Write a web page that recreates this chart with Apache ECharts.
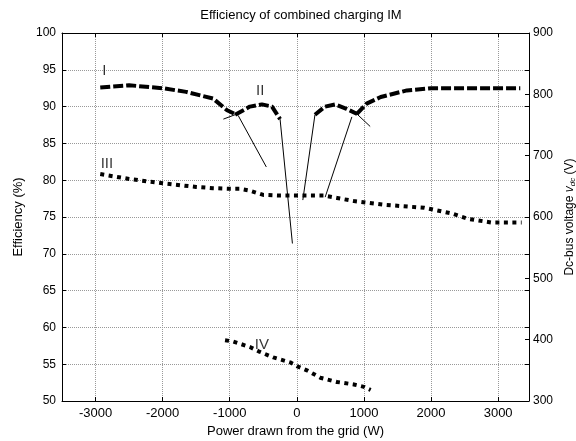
<!DOCTYPE html>
<html>
<head>
<meta charset="utf-8">
<script src="https://cdn.jsdelivr.net/npm/echarts@6/dist/echarts.min.js"></script>
<style>
  html, body { margin: 0; padding: 0; background: #fff; }
  #chart { width: 576px; height: 441px; }
</style>
</head>
<body>
<div id="chart"></div>
<script>
// x ticks (W)
var xTicks = [-3000, -2000, -1000, 0, 1000, 2000, 3000];

// curve I, efficiency (%) - outer dashed curve, left and right part
var curveILeft = [[-2930, 92.6], [-2500, 92.9], [-2000, 92.5], [-1650, 92.0], [-1250, 91.1], [-1040, 89.5], [-900, 88.9]];
var curveIRight = [[895, 89.0], [1040, 90.4], [1250, 91.3], [1640, 92.2], [2000, 92.5], [2400, 92.5], [2900, 92.5], [3330, 92.5]];

// curve II, efficiency (%) - inner humps near zero
var curveIILeft = [[-920, 88.9], [-700, 90.0], [-520, 90.3], [-370, 90.0], [-250, 88.3]];
var curveIIRight = [[270, 88.9], [420, 90.0], [570, 90.3], [740, 89.7], [900, 89.0]];

// thin extension lines, efficiency (%)
var thinLines = [
    [[-875, 88.8], [-455, 81.8]],
    [[-1095, 88.3], [-920, 88.9]],
    [[-250, 88.3], [-66, 71.4]],
    [[270, 88.9], [89, 77.3]],
    [[820, 88.6], [422, 77.7]],
    [[895, 89.0], [1093, 87.3]]
];

// curve III, dc-bus voltage (V)
var curveIIIx = [-2930, -2500, -2000, -1500, -1250, -1000, -850, -700, -500, -250, 0, 250, 400, 600, 850, 1300, 1900, 2300, 2550, 2900, 3350];
var curveIIIv = [670, 662, 655, 649, 647, 646, 646, 643, 636, 635, 635, 635, 635, 631, 626, 620, 615, 606, 597, 591, 591];

// curve IV, dc-bus voltage (V)
var curveIVx = [-1070, -950, -700, -570, -350, -100, 0, 150, 350, 600, 850, 1000, 1100];
var curveIVv = [399, 397, 388, 381, 371, 363, 357, 350, 338, 331, 327, 323, 318];

// curve labels (placed on efficiency scale)
var labelNames = ['I', 'II', 'III', 'IV'];
var labelX = [-2870, -547, -2830, -522];
var labelY = [94.9, 92.2, 82.2, 57.6];

var font = 'Liberation Sans, Arial, sans-serif';
var chart = echarts.init(document.getElementById('chart'));

function zip(xs, ys) {
    return xs.map(function (x, i) { return [x, ys[i]]; });
}

var dashStyle = {color: '#000', width: 4, type: [10, 3]};
var dotStyle = {color: '#000', width: 4, type: [4, 4.5], cap: 'butt'};

var series = [];
[curveILeft, curveIRight, curveIILeft, curveIIRight].forEach(function (d) {
    series.push({
        type: 'line', data: d, yAxisIndex: 0, showSymbol: false, symbol: 'none',
        lineStyle: dashStyle, silent: true, animation: false
    });
});
thinLines.forEach(function (d) {
    series.push({
        type: 'line', data: d, yAxisIndex: 0, symbol: 'none',
        lineStyle: {color: '#000', width: 1}, silent: true, animation: false
    });
});
series.push({
    type: 'line', data: zip(curveIIIx, curveIIIv), yAxisIndex: 1, symbol: 'none',
    lineStyle: dotStyle, silent: true, animation: false
});
series.push({
    type: 'line', data: zip(curveIVx, curveIVv), yAxisIndex: 1, symbol: 'none',
    lineStyle: dotStyle, silent: true, animation: false
});
series.push({
    type: 'scatter', yAxisIndex: 0, symbolSize: 0, silent: true, animation: false,
    data: labelNames.map(function (n, i) { return {name: n, value: [labelX[i], labelY[i]]}; }),
    label: {
        show: true, position: 'inside', formatter: '{b}',
        color: '#000', fontFamily: font, fontSize: 15
    }
});

chart.setOption({
    backgroundColor: '#fff',
    animation: false,
    title: {
        text: 'Efficiency of combined charging IM',
        left: 296, top: 4, textAlign: 'center',
        textStyle: {fontFamily: font, fontSize: 13, fontWeight: 'normal', color: '#000'}
    },
    grid: {left: 62, right: 47, top: 33, bottom: 40, outerBoundsMode: 'none', containLabel: false},
    xAxis: [{
        type: 'value', min: -3500, max: 3460,
        name: 'Power drawn from the grid (W)', nameLocation: 'middle', nameGap: 24,
        nameTextStyle: {fontFamily: font, fontSize: 13, color: '#000'},
        axisLine: {onZero: false, lineStyle: {color: '#000', width: 1}},
        axisTick: {inside: true, length: 4, lineStyle: {color: '#000'}, customValues: xTicks},
        axisLabel: {
            fontFamily: font, fontSize: 13, color: '#000', margin: 6, customValues: xTicks,
            formatter: function (v) { return String(v); }
        },
        splitLine: {show: true, lineStyle: {color: '#999', type: 'dotted', width: 1}}
    }, {
        type: 'value', position: 'top', min: -3500, max: 3460,
        axisLine: {onZero: false, lineStyle: {color: '#000', width: 1}},
        axisTick: {inside: true, length: 4, lineStyle: {color: '#000'}, customValues: xTicks},
        axisLabel: {show: false},
        splitLine: {show: false}
    }],
    yAxis: [{
        type: 'value', min: 50, max: 100, interval: 5, position: 'left',
        name: 'Efficiency (%)', nameLocation: 'middle', nameGap: 36,
        nameTextStyle: {fontFamily: font, fontSize: 13, color: '#000'},
        axisLine: {show: true, onZero: false, lineStyle: {color: '#000', width: 1}},
        axisTick: {show: true, inside: true, length: 4, lineStyle: {color: '#000'}},
        axisLabel: {fontFamily: font, fontSize: 12, color: '#000', margin: 6},
        splitLine: {show: true, lineStyle: {color: '#999', type: 'dotted', width: 1}}
    }, {
        type: 'value', min: 300, max: 900, interval: 100, position: 'right',
        name: 'Dc-bus voltage {i|v}{sub|dc} (V)', nameLocation: 'middle', nameGap: 34,
        nameMoveOverlap: false,
        nameTextStyle: {
            fontFamily: font, fontSize: 12, color: '#000',
            rich: {
                i: {fontFamily: font, fontSize: 12, fontStyle: 'italic', color: '#000'},
                sub: {fontFamily: font, fontSize: 8, fontStyle: 'italic', color: '#000', padding: [6, 0, 0, 0]}
            }
        },
        axisLine: {show: true, onZero: false, lineStyle: {color: '#000', width: 1}},
        axisTick: {show: true, inside: true, length: 4, lineStyle: {color: '#000'}},
        axisLabel: {fontFamily: font, fontSize: 12, color: '#000', margin: 4},
        splitLine: {show: false}
    }, {
        type: 'value', min: 50, max: 100, interval: 5, position: 'right',
        axisLine: {show: false, onZero: false},
        axisTick: {show: true, inside: true, length: 4, lineStyle: {color: '#000'}},
        axisLabel: {show: false},
        splitLine: {show: false}
    }],
    series: series
});
</script>
</body>
</html>
